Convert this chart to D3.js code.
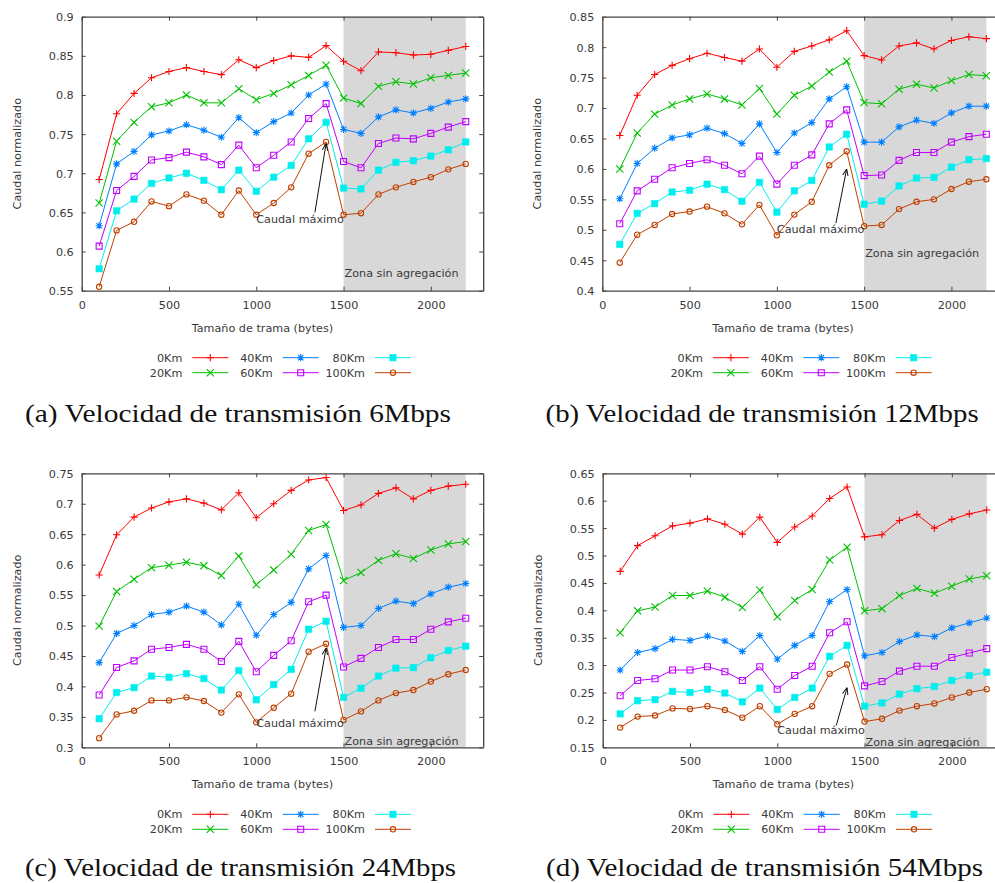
<!DOCTYPE html>
<html>
<head>
<meta charset="utf-8">
<script src="https://cdn.jsdelivr.net/npm/d3@7"></script>
<style>
  html, body { margin: 0; padding: 0; background: #fff; }
  svg { display: block; }
  .tick-label { font-family: "DejaVu Sans", sans-serif; font-size: 11.2px; fill: #3a3a3a; }
  .caption { font-family: "Liberation Serif", serif; font-size: 26px; fill: #111; }
</style>
</head>
<body>
<svg id="chart" width="995" height="883"></svg>
<script>
// Frame sizes (bytes) on the x axis
const frameSizes = [100, 200, 300, 400, 500, 600, 700, 800, 900, 1000, 1100,
                    1200, 1300, 1400, 1500, 1600, 1700, 1800, 1900, 2000, 2100, 2200];

// Distances (one series per distance)
const distances = ["0Km", "20Km", "40Km", "60Km", "80Km", "100Km"];
const seriesColors = ["#ff0000", "#00c000", "#0080ff", "#c000ff", "#00eeee", "#c04000"];
const seriesMarkers = ["plus", "cross", "star", "square", "filledSquare", "circle"];

// Normalized throughput, 6 Mbps
const rate6 = [
  [0.692,0.776,0.802,0.822,0.830,0.835,0.830,0.826,0.845,0.835,0.844,0.850,0.848,0.863,0.843,0.831,0.855,0.854,0.851,0.852,0.857,0.862],
  [0.662,0.741,0.765,0.785,0.790,0.800,0.790,0.790,0.808,0.794,0.802,0.813,0.825,0.838,0.796,0.789,0.811,0.817,0.814,0.822,0.825,0.828],
  [0.633,0.712,0.728,0.749,0.754,0.762,0.755,0.746,0.771,0.752,0.766,0.777,0.800,0.814,0.756,0.751,0.772,0.781,0.777,0.783,0.791,0.795],
  [0.607,0.678,0.696,0.717,0.720,0.727,0.721,0.711,0.736,0.707,0.723,0.740,0.770,0.789,0.715,0.707,0.738,0.745,0.744,0.751,0.759,0.766],
  [0.578,0.652,0.667,0.687,0.694,0.700,0.691,0.679,0.704,0.677,0.695,0.710,0.744,0.765,0.681,0.680,0.704,0.714,0.716,0.722,0.730,0.740],
  [0.555,0.627,0.638,0.664,0.658,0.673,0.665,0.647,0.678,0.647,0.662,0.682,0.725,0.740,0.647,0.649,0.673,0.682,0.689,0.695,0.705,0.712]
];

// Normalized throughput, 12 Mbps
const rate12 = [
  [0.655,0.721,0.755,0.770,0.781,0.790,0.783,0.777,0.797,0.767,0.793,0.802,0.812,0.827,0.786,0.779,0.802,0.807,0.797,0.811,0.817,0.814],
  [0.600,0.659,0.690,0.705,0.715,0.723,0.715,0.705,0.732,0.690,0.721,0.736,0.759,0.777,0.709,0.707,0.731,0.739,0.733,0.745,0.755,0.753],
  [0.551,0.609,0.634,0.651,0.656,0.667,0.658,0.642,0.674,0.627,0.659,0.676,0.715,0.735,0.644,0.644,0.669,0.680,0.675,0.692,0.703,0.703],
  [0.510,0.564,0.583,0.602,0.609,0.615,0.606,0.592,0.621,0.575,0.606,0.623,0.674,0.697,0.589,0.590,0.614,0.627,0.627,0.644,0.653,0.657],
  [0.476,0.527,0.543,0.562,0.565,0.575,0.566,0.547,0.578,0.529,0.564,0.581,0.636,0.657,0.542,0.547,0.572,0.585,0.586,0.603,0.615,0.617],
  [0.446,0.492,0.508,0.526,0.530,0.538,0.527,0.509,0.541,0.491,0.525,0.546,0.606,0.629,0.506,0.508,0.534,0.546,0.550,0.567,0.579,0.583]
];

// Normalized throughput, 24 Mbps
const rate24 = [
  [0.583,0.649,0.678,0.693,0.703,0.708,0.701,0.690,0.718,0.677,0.700,0.722,0.739,0.743,0.689,0.698,0.717,0.726,0.708,0.722,0.729,0.732],
  [0.499,0.556,0.576,0.595,0.599,0.604,0.598,0.582,0.614,0.567,0.591,0.617,0.656,0.666,0.574,0.587,0.607,0.618,0.610,0.624,0.634,0.638],
  [0.439,0.487,0.500,0.518,0.522,0.532,0.522,0.501,0.535,0.484,0.518,0.538,0.593,0.615,0.497,0.500,0.528,0.540,0.536,0.552,0.563,0.569],
  [0.386,0.431,0.442,0.461,0.464,0.469,0.461,0.441,0.474,0.424,0.451,0.475,0.539,0.550,0.432,0.446,0.464,0.477,0.477,0.494,0.506,0.512],
  [0.347,0.390,0.398,0.417,0.415,0.421,0.413,0.394,0.426,0.378,0.403,0.428,0.494,0.507,0.382,0.397,0.417,0.430,0.431,0.447,0.459,0.466],
  [0.315,0.354,0.360,0.377,0.377,0.382,0.376,0.357,0.387,0.341,0.365,0.388,0.457,0.470,0.345,0.359,0.377,0.389,0.394,0.408,0.420,0.427]
];

// Normalized throughput, 54 Mbps
const rate54 = [
  [0.471,0.518,0.536,0.554,0.559,0.567,0.557,0.539,0.570,0.524,0.552,0.572,0.604,0.625,0.534,0.538,0.564,0.575,0.550,0.566,0.576,0.583],
  [0.359,0.399,0.406,0.427,0.427,0.435,0.424,0.405,0.437,0.388,0.418,0.438,0.492,0.515,0.399,0.403,0.427,0.440,0.431,0.444,0.457,0.463],
  [0.291,0.323,0.330,0.347,0.345,0.353,0.344,0.325,0.354,0.311,0.336,0.354,0.416,0.438,0.317,0.323,0.343,0.355,0.352,0.368,0.377,0.386],
  [0.244,0.272,0.275,0.291,0.291,0.297,0.288,0.272,0.297,0.256,0.281,0.298,0.359,0.379,0.262,0.270,0.289,0.298,0.298,0.314,0.322,0.330],
  [0.211,0.235,0.237,0.252,0.250,0.256,0.249,0.233,0.258,0.219,0.241,0.258,0.316,0.336,0.225,0.231,0.247,0.257,0.261,0.272,0.281,0.287],
  [0.186,0.206,0.208,0.221,0.220,0.225,0.218,0.204,0.225,0.192,0.211,0.225,0.284,0.301,0.197,0.202,0.217,0.225,0.230,0.241,0.250,0.256]
];

// Axis ticks
const xTicks = [0, 500, 1000, 1500, 2000];
const yTicks6  = [0.55, 0.6, 0.65, 0.7, 0.75, 0.8, 0.85, 0.9];
const yTicks12 = [0.4, 0.45, 0.5, 0.55, 0.6, 0.65, 0.7, 0.75, 0.8, 0.85];
const yTicks24 = [0.3, 0.35, 0.4, 0.45, 0.5, 0.55, 0.6, 0.65, 0.7, 0.75];
const yTicks54 = [0.15, 0.2, 0.25, 0.3, 0.35, 0.4, 0.45, 0.5, 0.55, 0.6, 0.65];

// Captions
const captions = [
  "(a) Velocidad de transmisión 6Mbps",
  "(b) Velocidad de transmisión 12Mbps",
  "(c) Velocidad de transmisión 24Mbps",
  "(d) Velocidad de transmisión 54Mbps"
];

// Annotation anchors in data units: [text x, text y, arrow-from x, arrow-from y, arrow-to x, arrow-to y, zone-label y]
const annot6  = [1000, 0.641, 1336, 0.650, 1400, 0.738, 0.572];
const annot12 = [1000, 0.501, 1338, 0.511, 1400, 0.600, 0.461];
const annot24 = [1000, 0.340, 1336, 0.359, 1400, 0.463, 0.311];
const annot54 = [1000, 0.181, 1338, 0.190, 1400, 0.259, 0.160];

const xDomain = [0, 2300];
const noAggStart = 1500, noAggEnd = 2200;

const panels = [
  { data: rate6,  yTicks: yTicks6,  annot: annot6,  caption: captions[0], left: 81.7,  top: 16.7,  capLen: 426, capY: 405.6 },
  { data: rate12, yTicks: yTicks12, annot: annot12, caption: captions[1], left: 602.3, top: 16.7,  capLen: 433, capY: 405.6 },
  { data: rate24, yTicks: yTicks24, annot: annot24, caption: captions[2], left: 81.7,  top: 473.3, capLen: 431, capY: 402.7 },
  { data: rate54, yTicks: yTicks54, annot: annot54, caption: captions[3], left: 602.7, top: 473.3, capLen: 437, capY: 402.7 }
];

const plotW = 401.5, plotH = 274;
const svg = d3.select("#chart");

const defs = svg.append("defs");
defs.append("marker")
  .attr("id", "arrowhead")
  .attr("viewBox", "0 0 10 10")
  .attr("refX", 10).attr("refY", 5)
  .attr("markerWidth", 7).attr("markerHeight", 7)
  .attr("markerUnits", "userSpaceOnUse")
  .attr("orient", "auto")
  .append("path")
  .attr("d", "M0,1 L10,5 L0,9")
  .attr("fill", "none")
  .attr("stroke", "#111")
  .attr("stroke-width", 1.4);

function markerPath(kind) {
  const s = 3.6;
  switch (kind) {
    case "plus": return `M${-s},0H${s}M0,${-s}V${s}`;
    case "cross": return `M${-s},${-s}L${s},${s}M${-s},${s}L${s},${-s}`;
    case "star": return `M${-s},0H${s}M0,${-s}V${s}M${-s*0.75},${-s*0.75}L${s*0.75},${s*0.75}M${-s*0.75},${s*0.75}L${s*0.75},${-s*0.75}`;
    case "square": return "M-3,-3H3V3H-3Z";
    case "filledSquare": return "M-3.2,-3.2H3.2V3.2H-3.2Z";
    case "circle": return d3.symbol(d3.symbolCircle, 22)();
  }
}

function drawMarker(sel, kind, color) {
  sel.append("path")
    .attr("d", markerPath(kind))
    .attr("fill", kind === "filledSquare" ? color : "none")
    .attr("stroke", color)
    .attr("stroke-width", kind === "filledSquare" ? 0.6 : 1.1);
}

const fmt = v => String(+v.toFixed(2));

panels.forEach(p => {
  const yDomain = [p.yTicks[0], p.yTicks[p.yTicks.length - 1]];
  const x = d3.scaleLinear().domain(xDomain).range([0, plotW]);
  const y = d3.scaleLinear().domain(yDomain).range([plotH, 0]);

  const g = svg.append("g").attr("transform", `translate(${p.left},${p.top})`);

  // Region where frame aggregation is not applied
  g.append("rect")
    .attr("x", x(noAggStart)).attr("y", 0)
    .attr("width", x(noAggEnd) - x(noAggStart)).attr("height", plotH)
    .attr("fill", "#d8d8d8");

  // Axes with inward ticks, mirrored on top/right
  const axisColor = "#444";
  const bottom = g.append("g").attr("transform", `translate(0,${plotH})`)
    .call(d3.axisBottom(x).tickValues(xTicks).tickSizeInner(-4).tickSizeOuter(0).tickPadding(10).tickFormat(d3.format("d")));
  const top = g.append("g")
    .call(d3.axisTop(x).tickValues(xTicks).tickSizeInner(-4).tickSizeOuter(0).tickFormat(""));
  const left = g.append("g")
    .call(d3.axisLeft(y).tickValues(p.yTicks).tickSizeInner(-4).tickSizeOuter(0).tickPadding(8).tickFormat(fmt));
  const right = g.append("g").attr("transform", `translate(${plotW},0)`)
    .call(d3.axisRight(y).tickValues(p.yTicks).tickSizeInner(-4).tickSizeOuter(0).tickFormat(""));
  [bottom, top, left, right].forEach(a => {
    a.select(".domain").attr("stroke", axisColor).attr("stroke-width", 1.3);
    a.selectAll(".tick line").attr("stroke", axisColor).attr("stroke-width", 1);
    a.selectAll(".tick text").attr("class", "tick-label").attr("fill", null);
  });
  left.selectAll(".tick text").attr("dy", "0.35em");

  // Axis titles
  g.append("text").attr("class", "tick-label")
    .attr("x", plotW / 2 - 20).attr("y", plotH + 41)
    .attr("text-anchor", "middle")
    .text("Tamaño de trama (bytes)");
  g.append("text").attr("class", "tick-label")
    .attr("transform", `translate(${-65},${plotH / 2}) rotate(-90)`)
    .attr("text-anchor", "middle").attr("dy", "0.35em")
    .text("Caudal normalizado");

  // Series
  const line = d3.line().x((d, i) => x(frameSizes[i])).y(d => y(d));
  p.data.forEach((vals, si) => {
    g.append("path")
      .attr("d", line(vals))
      .attr("fill", "none")
      .attr("stroke", seriesColors[si])
      .attr("stroke-width", 1);
    const pts = g.append("g");
    vals.forEach((v, i) => {
      const m = pts.append("g").attr("transform", `translate(${x(frameSizes[i])},${y(v)})`);
      drawMarker(m, seriesMarkers[si], seriesColors[si]);
    });
  });

  // Annotations
  const a = p.annot;
  g.append("line")
    .attr("x1", x(a[2])).attr("y1", y(a[3]))
    .attr("x2", x(a[4])).attr("y2", y(a[5]))
    .attr("stroke", "#111").attr("stroke-width", 1)
    .attr("marker-end", "url(#arrowhead)");
  g.append("text").attr("class", "tick-label")
    .attr("x", x(a[0])).attr("y", y(a[1])).attr("dy", "0.35em")
    .text("Caudal máximo");
  g.append("text").attr("class", "tick-label")
    .attr("x", x(noAggStart) + 1).attr("y", y(a[6])).attr("dy", "0.35em")
    .text("Zona sin agregación");

  // Legend: two rows, three columns
  const labelEnds = [100.6, 191, 283.3];
  distances.forEach((name, i) => {
    const col = Math.floor(i / 2), row = i % 2;
    const lx = labelEnds[col];
    const ly = plotH + 67 + row * 15;
    g.append("text").attr("class", "tick-label")
      .attr("x", lx).attr("y", ly).attr("dy", "0.35em")
      .attr("text-anchor", "end").text(name);
    g.append("line")
      .attr("x1", lx + 10).attr("x2", lx + 46)
      .attr("y1", ly).attr("y2", ly)
      .attr("stroke", seriesColors[i]).attr("stroke-width", 1);
    const m = g.append("g").attr("transform", `translate(${lx + 28},${ly})`);
    drawMarker(m, seriesMarkers[i], seriesColors[i]);
  });

  // Caption
  g.append("text").attr("class", "caption")
    .attr("x", -56.7).attr("y", p.capY)
    .attr("textLength", p.capLen).attr("lengthAdjust", "spacingAndGlyphs")
    .text(p.caption);
});
</script>
</body>
</html>
